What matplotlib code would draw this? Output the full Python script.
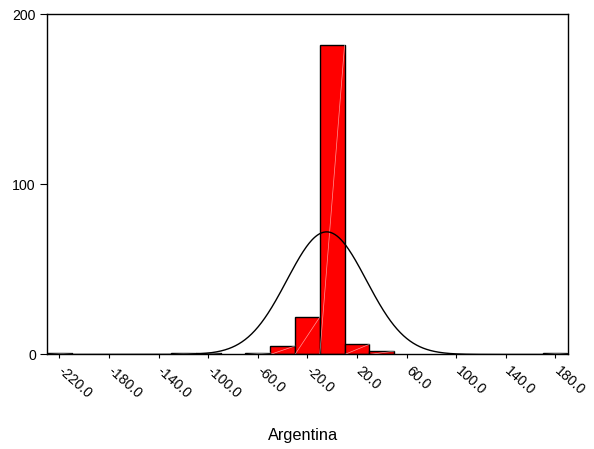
import numpy as np
import matplotlib
matplotlib.use("Agg")
import matplotlib.pyplot as plt
from matplotlib.transforms import ScaledTranslation, blended_transform_factory

# Histogram data (bin centres, width 20)
bin_centers = [-220, -120, -100, -60, -40, -20, 0, 20, 40, 180]
counts = [1, 1, 1, 1, 5, 22, 182, 6, 2, 1]
bin_width = 20
# Normal curve parameters
curve_mean = -4.5
curve_sd = 32.0
curve_n = 289

x_ticks = [-220, -180, -140, -100, -60, -20, 20, 60, 100, 140, 180]
x_tick_labels = ["-220.0", "-180.0", "-140.0", "-100.0", "-60.0", "-20.0",
                 "20.0", "60.0", "100.0", "140.0", "180.0"]
y_ticks = [0, 100, 200]
x_label = "Argentina"

plt.rcParams['font.family'] = ['Liberation Sans', 'DejaVu Sans']

fig = plt.figure(figsize=(5.94, 4.49), dpi=100)
ax = fig.add_axes([0.079, 0.2105, 0.877, 0.758])

ax.bar(bin_centers, counts, width=bin_width, color='#FF0000',
       edgecolor='black', linewidth=1.0, zorder=2)
# faint diagonal highlight lines inside bars
for c, h in zip(bin_centers, counts):
    ax.plot([c - bin_width / 2, c + bin_width / 2], [0, h], color='white',
            lw=0.5, alpha=0.6, zorder=3)

xs = np.linspace(-230, 190, 800)
ys = curve_n * bin_width / (curve_sd * np.sqrt(2 * np.pi)) * \
    np.exp(-0.5 * ((xs - curve_mean) / curve_sd) ** 2)
ax.plot(xs, ys, color='black', lw=1.0, zorder=4)

ax.set_xlim(-230, 190)
ax.set_ylim(0, 200)
ax.set_xticks(x_ticks)
ax.set_xticklabels([])
trans = blended_transform_factory(ax.transData, ax.transAxes) + \
    ScaledTranslation(4 / 72, -7 / 72, fig.dpi_scale_trans)
for v, s in zip(x_ticks, x_tick_labels):
    ax.text(v, 0, s, transform=trans, rotation=-42, ha='left', va='top',
            rotation_mode='anchor', fontsize=10.2, clip_on=False)
ax.set_yticks(y_ticks)
ax.set_yticklabels([str(v) for v in y_ticks], fontsize=10.2)
ax.tick_params(axis='x', length=3, width=0.8)
ax.tick_params(axis='y', length=5, width=0.8, pad=3)
for sp in ax.spines.values():
    sp.set_linewidth(1.0)
fig.text(0.510, 1 - 440 / 449, x_label, fontsize=11.8, ha='center',
         va='baseline')

fig.savefig("out.png", dpi=100)
